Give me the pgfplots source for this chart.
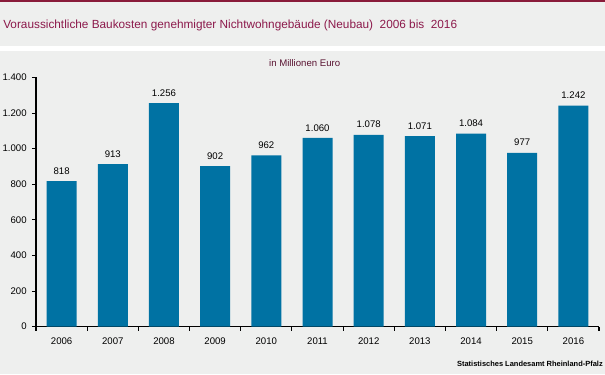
\documentclass[border=0pt]{standalone}
\usepackage{fontspec}
\setmainfont{Liberation Sans}
\usepackage{pgfplots}
\pgfplotsset{compat=1.18}
\definecolor{bg}{RGB}{238,239,238}
\definecolor{barblue}{RGB}{0,114,163}
\definecolor{topred}{RGB}{137,27,58}
\definecolor{titlecol}{RGB}{140,25,75}
\definecolor{subcol}{RGB}{90,20,50}
\begin{document}
\begin{tikzpicture}
\fill[bg] (0,0) rectangle (453.75pt,280.5pt);
\fill[white] (0,242.5pt) rectangle (453.75pt,246.2pt);
\fill[topred] (0,279pt) rectangle (453.75pt,280.5pt);
\node[anchor=base west, inner sep=0pt, text=titlecol, font=\fontsize{8.85pt}{10pt}\selectfont] at (2.25pt,259pt) {Voraussichtliche Baukosten genehmigter Nichtwohngebäude (Neubau)\ \ 2006 bis\ \ 2016};
\node[anchor=center, inner sep=0pt, text=subcol, font=\fontsize{7.2pt}{8pt}\selectfont] at (228.5pt,233.25pt) {in Millionen Euro};
\node[anchor=base east, inner sep=0pt, font=\bfseries\fontsize{5.6pt}{7pt}\selectfont] at (452.25pt,5.5pt) {Statistisches Landesamt Rheinland-Pfalz};
\begin{axis}[
  at={(27pt,35.5pt)}, anchor=south west,
  scale only axis, width=422.25pt, height=186.9pt,
  xmin=-0.5, xmax=10.5, ymin=0, ymax=1400,
  axis x line*=bottom, axis y line*=left,
  axis line style={black, line width=0.8pt, -},
  ybar, bar width=22.5pt,
  xtick={0,...,10},
  xticklabels={2006,2007,2008,2009,2010,2011,2012,2013,2014,2015,2016},
  major x tick style={draw=none},
  minor xtick={-0.5,0.5,...,10.5},
  minor x tick style={black, line width=0.8pt},
  minor tick length=3pt,
  ytick={0,200,...,1400},
  y tick style={black, line width=0.8pt},
  major tick length=3pt,
  tick align=outside,
  tick label style={font=\fontsize{7.2pt}{8pt}\selectfont},
  xticklabel style={yshift=-2pt},
  yticklabel style={xshift=-0.5pt},
  /pgf/number format/.cd, 1000 sep={.}, assume math mode=true,
  /pgfplots/.cd,
  nodes near coords,
  nodes near coords style={font=\fontsize{7.2pt}{8pt}\selectfont, /pgf/number format/1000 sep={.}, yshift=1.5pt},
  clip=false,
]
\addplot[fill=barblue, draw=none] coordinates {
(0,818) (1,913) (2,1256) (3,902) (4,962) (5,1060) (6,1078) (7,1071) (8,1084) (9,977) (10,1242)};
\end{axis}
\pgfresetboundingbox
\path[use as bounding box] (0,0) rectangle (453.75pt,280.5pt);
\end{tikzpicture}
\end{document}
